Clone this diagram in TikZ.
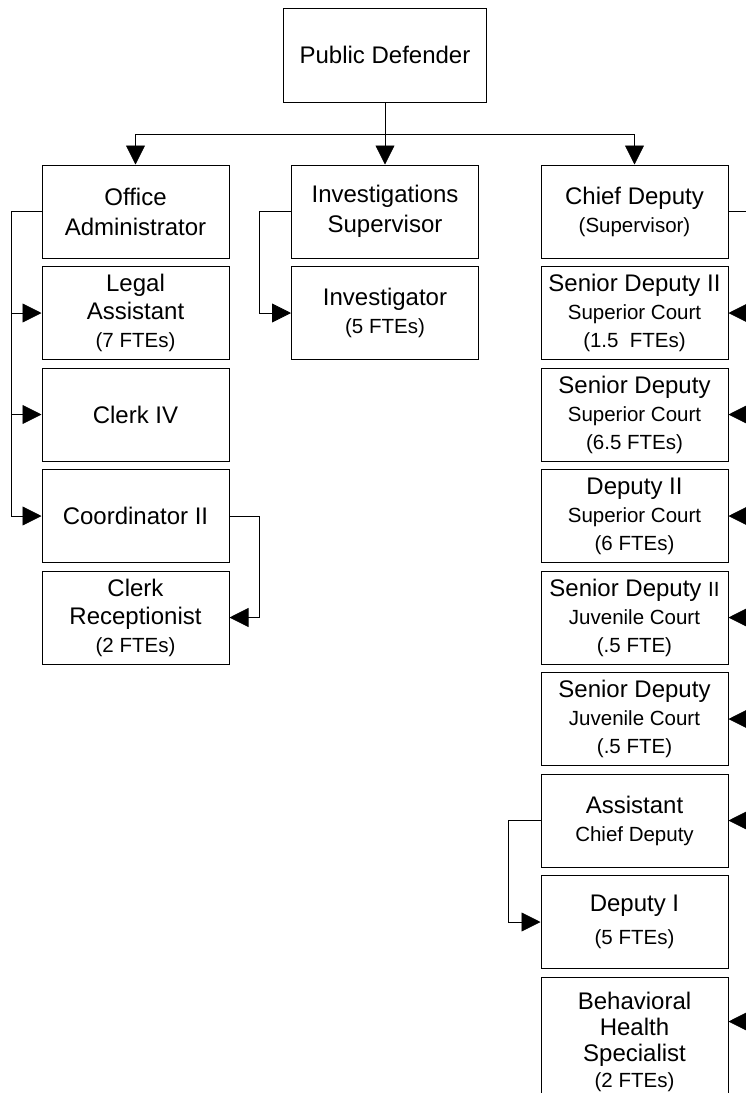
\documentclass[tikz,border=0pt]{standalone}
\usepackage{fontspec}
\setmainfont{Liberation Sans}
\usetikzlibrary{arrows.meta,positioning}
\newcommand{\smtxt}[1]{{\fontsize{20.5pt}{25pt}\selectfont #1}}

\begin{document}
\begin{tikzpicture}[x=1pt,y=-1pt,
  post/.style={draw, line width=1pt, minimum width=187pt, minimum height=93pt,
    inner sep=0pt, align=center, font=\fontsize{24pt}{28pt}\selectfont},
  link/.style={line width=0.8pt},
  arr/.style={link, -{Triangle[length=19pt,width=19pt]}},
  node distance=7.5pt]
  \useasboundingbox (0,0) rectangle (746,1093);
  \clip (0,0) rectangle (746,1093);
  \node[post, minimum width=203pt, minimum height=94pt] (pd) at (385,55) {Public Defender};
  % left column
  \node[post] (oa) at (135.5,211.5) {Office\\[2pt]Administrator};
  \node[post, below=of oa] (la) {Legal\\Assistant\\\smtxt{(7 FTEs)}};
  \node[post, below=of la] (ck) {Clerk IV};
  \node[post, below=of ck] (co) {Coordinator II};
  \node[post, below=of co] (cr) {Clerk\\Receptionist\\\smtxt{(2 FTEs)}};
  % middle column
  \node[post] (is) at (385,211.5) {Investigations\\[2pt]Supervisor};
  \node[post, below=of is] (iv) {Investigator\\\smtxt{(5 FTEs)}};
  % right column
  \node[post] (cd) at (634.5,211.5) {Chief Deputy\\\smtxt{(Supervisor)}};
  \node[post, below=of cd] (sd2) {Senior Deputy II\\\smtxt{Superior Court}\\\smtxt{(1.5\ \ FTEs)}};
  \node[post, below=of sd2] (sd) {Senior Deputy\\\smtxt{Superior Court}\\\smtxt{(6.5 FTEs)}};
  \node[post, below=of sd] (d2) {Deputy II\\\smtxt{Superior Court}\\\smtxt{(6 FTEs)}};
  \node[post, below=of d2] (sj2) {Senior Deputy \smtxt{II}\\\smtxt{Juvenile Court}\\\smtxt{(.5 FTE)}};
  \node[post, below=of sj2] (sj) {Senior Deputy\\\smtxt{Juvenile Court}\\\smtxt{(.5 FTE)}};
  \node[post, below=of sj] (acd) {Assistant\\\smtxt{Chief Deputy}};
  \node[post, below=of acd] (d1) {Deputy I\\[5pt]\smtxt{(5 FTEs)}};
  \node[post, below=of d1, minimum height=130pt, font=\fontsize{24pt}{26pt}\selectfont] (bh)
    {Behavioral\\Health\\Specialist\\\smtxt{(2 FTEs)}};

  % top level
  \coordinate (hub) at (385,134);
  \draw[link] (pd.south) -- (hub);
  \draw[arr] (hub) -| (oa.north);
  \draw[arr] (hub) -- (is.north);
  \draw[arr] (hub) -| (cd.north);
  % office administrator
  \coordinate (lbus) at (11,0);
  \draw[link] (oa.west) -| (lbus |- co.west);
  \foreach \n in {la,ck,co}
    \draw[arr] (lbus |- \n.west) -- (\n.west);
  \draw[arr] (co.east) -- ++(30,0) |- (cr.east);
  % investigations
  \draw[arr] (is.west) -- ++(-32,0) |- (iv.west);
  % chief deputy
  \coordinate (rbus) at (752,0);
  \coordinate (bhin) at ([yshift=-45pt]bh.north east);
  \draw[link] (cd.east) -| (rbus |- bhin);
  \foreach \n in {sd2,sd,d2,sj2,sj,acd}
    \draw[arr] (rbus |- \n.east) -- (\n.east);
  \draw[arr] (rbus |- bhin) -- (bhin);
  \draw[arr] (acd.west) -- ++(-32,0) |- (d1.west);
\end{tikzpicture}
\end{document}
